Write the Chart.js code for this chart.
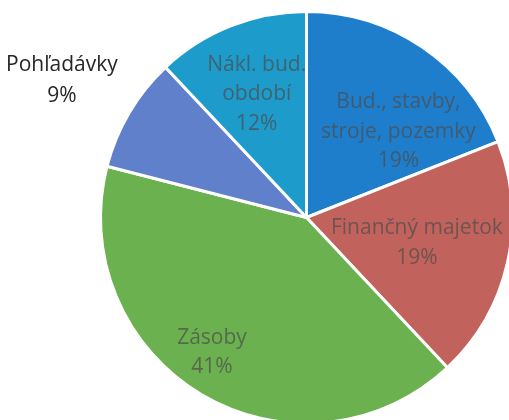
<!DOCTYPE html>
<html>
<head>
<meta charset="utf-8">
<script src="https://cdn.jsdelivr.net/npm/chart.js@4"></script>
<style>
    html, body { margin: 0; padding: 0; background: #ffffff; overflow: hidden; }
    #wrap { position: relative; width: 520px; height: 432px; }
</style>
</head>
<body>
<div id="wrap"><canvas id="pie-chart"></canvas></div>
<script>
// Asset structure pie, clockwise from 12 o'clock.
const categories = ["Bud., stavby, stroje, pozemky", "Finančný majetok", "Zásoby", "Pohľadávky", "Nákl. bud. obdobie"];
const shares = [19, 19, 41, 9, 12];

// Label lines as printed on the chart (category text is wrapped by hand).
const labelLines = [
    ["Bud., stavby,", "stroje, pozemky", "19%"],
    ["Finančný majetok", "19%"],
    ["Zásoby", "41%"],
    ["Pohľadávky", "9%"],
    ["Nákl. bud.", "období", "12%"],
];

const sliceColors = ["#1f7ecb", "#c2625c", "#6cb14f", "#6080cb", "#1d9bcb"];

// Where each label block sits: angle (deg clockwise from top) and
// distance from the centre as a fraction of the radius.
const labelAnchor = [[47, 0.61], [103, 0.55], [215, 0.80], [299.2, 1.36], [338, 0.645]];
const labelInside = [true, true, true, false, true];

const pieLabels = {
    id: "pieLabels",
    afterDatasetsDraw(chart) {
        const ctx = chart.ctx;
        const arcs = chart.getDatasetMeta(0).data;
        ctx.save();
        ctx.font = "21px 'Open Sans', sans-serif";
        ctx.textAlign = "center";
        ctx.textBaseline = "middle";
        arcs.forEach((arc, i) => {
            const [deg, frac] = labelAnchor[i];
            const a = (deg - 90) * Math.PI / 180;
            const cx = arc.x + Math.cos(a) * arc.outerRadius * frac;
            const cy = arc.y + Math.sin(a) * arc.outerRadius * frac;
            const lines = labelLines[i];
            const lh = labelInside[i] ? 29.5 : 31;
            ctx.fillStyle = labelInside[i] ? "rgba(78, 78, 78, 0.72)" : "#262626";
            lines.forEach((t, k) => {
                ctx.fillText(t, cx, cy + (k - (lines.length - 1) / 2) * lh);
            });
        });
        ctx.restore();
    },
};

new Chart(document.getElementById("pie-chart"), {
    type: "pie",
    data: {
        labels: categories,
        datasets: [{
            data: shares,
            backgroundColor: sliceColors,
            borderColor: "#ffffff",
            borderWidth: 3,
        }],
    },
    options: {
        responsive: true,
        maintainAspectRatio: false,
        animation: false,
        layout: { padding: { left: 99, top: 9, right: 6, bottom: 6 } },
        plugins: {
            legend: { display: false },
            tooltip: { enabled: false },
        },
    },
    plugins: [pieLabels],
});
</script>
</body>
</html>
